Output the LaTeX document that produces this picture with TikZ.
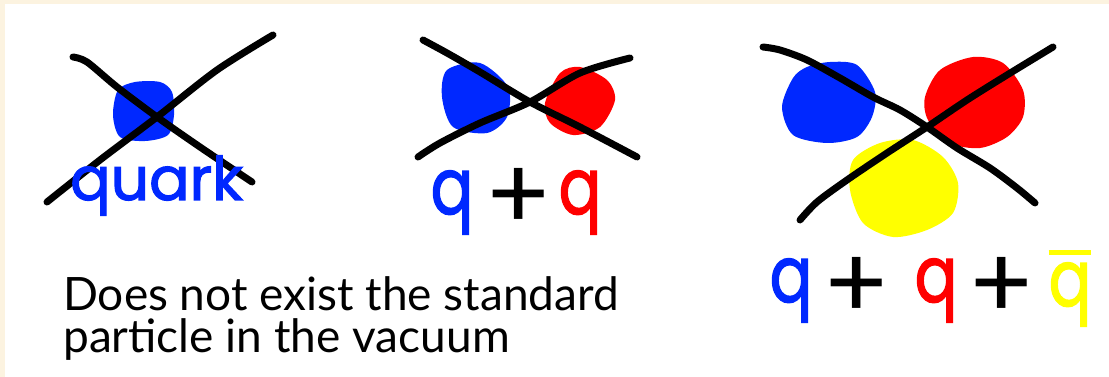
\documentclass[tikz,border=0pt]{standalone}
\usepackage{fontspec}
\setmainfont{Lato}
\newfontfamily\handfont{Poppins}[FakeBold=2]
\newfontfamily\plusfont{Poppins}
\definecolor{bgcream}{RGB}{252,243,224}
\definecolor{qblue}{RGB}{0,40,255}
\definecolor{qred}{RGB}{255,0,0}
\definecolor{qyellow}{RGB}{255,255,0}
\newcommand{\thickbar}[1]{\vbox{\hrule height 5pt\kern 8pt\hbox{#1}}}
\newcommand{\tallq}{\scalebox{1.05}[1.3]{q}}
\begin{document}
\begin{tikzpicture}[x=1pt,y=-1pt,
  cross/.style={line width=7pt, line cap=round, line join=round, black},
  hw/.style={inner sep=0pt, anchor=base, font=\handfont\fontsize{60}{60}\selectfont},
  plussign/.style={inner sep=0pt, anchor=base, font=\plusfont\fontsize{100}{100}\selectfont, text=black},
  body/.style={inner sep=0pt, anchor=base west, font=\fontsize{46}{46}\selectfont, text=black}]
\fill[bgcream] (0,0) rectangle (1109,377);
\fill[white] (5,4) rectangle (1109,377);
\useasboundingbox (0,0) rectangle (1109,377);

% ---- panel 1: single quark
\fill[qblue] plot[smooth cycle] coordinates {(118,90) (135,82) (160,82) (172,92) (174,115) (168,135) (145,141) (120,137) (113,115)};
\draw[cross] plot[smooth] coordinates {(73,57) (87,62) (117,87) (157,117) (200,147) (252,182)};
\draw[cross] plot[smooth] coordinates {(273,35) (217,70) (157,117) (100,160) (47,202)};
\node[hw, text=qblue, anchor=base west] (quark) at (70,200) {quark};

% ---- panel 2: two quarks
\fill[qblue] plot[smooth cycle] coordinates {(447,70) (480,63) (508,87) (507,117) (487,133) (453,127) (442,97)};
\fill[qred] plot[smooth cycle] coordinates {(545,103) (560,73) (580,67) (607,80) (615,100) (600,127) (573,135) (550,123)};
\draw[cross] plot[smooth] coordinates {(423,40) (447,53) (480,72) (530,102) (580,127) (637,157)};
\draw[cross] plot[smooth] coordinates {(630,58) (580,73) (530,102) (480,123) (440,143) (418,157)};
\node[hw, text=qblue] (q2a) at (452,214) {\tallq};
\node[plussign] (p2) at (519,230) {+};
\node[hw, text=qred] (q2b) at (580,214) {\tallq};

% ---- panel 3: three quarks
\fill[qblue] plot[smooth cycle] coordinates {(830,62) (857,65) (875,92) (872,117) (857,137) (827,143) (793,135) (782,107) (793,78) (807,67)};
\fill[qred] plot[smooth cycle] coordinates {(925,97) (940,70) (973,57) (1003,63) (1023,90) (1023,117) (1007,137) (980,148) (950,143) (928,120)};
\fill[qyellow] plot[smooth cycle] coordinates {(853,160) (880,143) (913,140) (943,157) (958,183) (953,213) (927,230) (893,237) (863,223) (850,190)};
\draw[cross] plot[smooth] coordinates {(763,47) (780,50) (807,60) (840,78) (873,97) (900,110) (927,127) (957,148) (990,168) (1017,188) (1035,203)};
\draw[cross] plot[smooth] coordinates {(1053,47) (1007,75) (967,100) (927,127) (887,153) (847,180) (817,202) (800,220)};
\node[hw, text=qblue] (q3a) at (791,302) {\tallq};
\node[plussign] (p3a) at (857,319) {+};
\node[hw, text=qred] (q3b) at (936,302) {\tallq};
\node[plussign] (p3b) at (1002,319) {+};
\node[hw, text=qyellow] (q3c) at (1070,306) {\thickbar{\tallq}};

% ---- caption
\node[body] (line1) at (63,310) {Does not exist the standard};
\node[body] (line2) at (63,352) {particle in the vacuum};
\end{tikzpicture}
\end{document}
